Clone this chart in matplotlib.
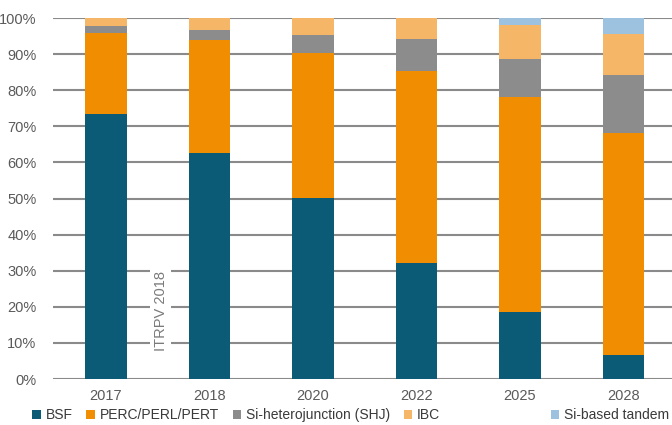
import matplotlib
matplotlib.use('Agg')
import matplotlib.pyplot as plt
import numpy as np
from matplotlib.patches import Patch

years = ['2017', '2018', '2020', '2022', '2025', '2028']
bsf = [73.5, 62.5, 50.2, 32.2, 18.6, 6.6]
perc = [22.4, 31.4, 40.2, 53.0, 59.4, 61.6]
shj = [1.9, 2.8, 5.0, 8.9, 10.6, 16.1]
ibc = [2.2, 3.3, 4.6, 5.9, 9.4, 11.3]
tandem = [0.0, 0.0, 0.0, 0.0, 2.0, 4.4]

series = [bsf, perc, shj, ibc, tandem]
names = ['BSF', 'PERC/PERL/PERT', 'Si-heterojunction (SHJ)', 'IBC', 'Si-based tandem']
colors = ['#0b5b77', '#f18d00', '#8c8c8c', '#f6b667', '#9cc2df']

plt.rcParams['font.family'] = ['Liberation Sans', 'DejaVu Sans']

fig = plt.figure(figsize=(6.72, 4.25), dpi=100)
ax = fig.add_axes([0.079, 0.108, 0.921, 0.8495])

x = np.arange(len(years))
bottom = np.zeros(len(years))
for vals, col in zip(series, colors):
    ax.bar(x, vals, 0.4, bottom=bottom, color=col, zorder=3)
    bottom += np.array(vals)

ax.set_xlim(-0.51, 5.47)
ax.set_ylim(0, 100)
ax.set_yticks(np.arange(0, 101, 10))
ax.set_yticklabels([str(v) + '%' for v in range(0, 101, 10)])
ax.set_xticks(x)
ax.set_xticklabels(years)
ax.grid(axis='y', color='#8a8a8a', linewidth=1.5, zorder=0)
for s in ax.spines.values():
    s.set_visible(False)
ax.tick_params(length=0, labelsize=10.5, colors='#5a5a5a')
ax.tick_params(axis='y', pad=12)
ax.tick_params(axis='x', pad=7)

ax.text(0.53, 19, 'ITRPV 2018', rotation=90, ha='center', va='center',
        fontsize=10.5, color='#7a7a7a', zorder=4,
        bbox=dict(facecolor='white', edgecolor='none', pad=2.5))

h = [Patch(facecolor=c) for c in colors]
kw = dict(frameon=False, fontsize=10, handlelength=0.6, handleheight=0.6,
          handletextpad=0.35, borderaxespad=0, borderpad=0, labelcolor='#3a3a3a')
fig.legend(h[:4], names[:4], loc='center left', bbox_to_anchor=(0.048, 0.023),
           ncol=4, columnspacing=1.0, **kw)
fig.legend(h[4:], names[4:], loc='center left', bbox_to_anchor=(0.82, 0.023), **kw)

fig.savefig('out.png', dpi=100)
